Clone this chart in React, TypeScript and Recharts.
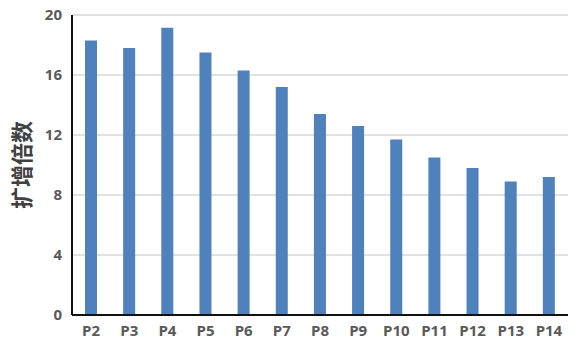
import { BarChart, Bar, XAxis, YAxis, CartesianGrid } from "recharts";

const categories = ["P2", "P3", "P4", "P5", "P6", "P7", "P8", "P9", "P10", "P11", "P12", "P13", "P14"];
const foldValues = [18.3, 17.8, 19.15, 17.5, 16.3, 15.2, 13.4, 12.6, 11.7, 10.5, 9.8, 8.9, 9.2];
const yTicks = [0, 4, 8, 12, 16, 20];

const data = categories.map((name, i) => ({ name, value: foldValues[i] }));

const tickStyle = {
  fontSize: 15,
  fontWeight: 700,
  fill: "#595959",
  fontFamily: "'Open Sans', 'Liberation Sans', sans-serif",
};

export default function App() {
  return (
    <div style={{ position: "absolute", left: 0, top: 0, width: 583, height: 352, background: "#fff" }}>
      <BarChart
        width={583}
        height={352}
        data={data}
        margin={{ top: 15, right: 15, left: 0, bottom: 7 }}
        barCategoryGap={0}
      >
        <CartesianGrid vertical={false} stroke="#d9d9d9" strokeWidth={1.5} />
        <XAxis
          dataKey="name"
          height={30}
          tickLine={false}
          axisLine={{ stroke: "#111", strokeWidth: 2 }}
          tick={{ ...tickStyle, fontSize: 15 }}
          tickMargin={4}
          interval={0}
        />
        <YAxis
          width={72}
          domain={[0, 20]}
          ticks={yTicks}
          tickLine={false}
          axisLine={{ stroke: "#111", strokeWidth: 2 }}
          tick={tickStyle}
          tickMargin={4}
          label={{
            value: "扩增倍数",
            angle: -90,
            position: "insideLeft",
            offset: 22,
            style: {
              textAnchor: "middle",
              fontSize: 22,
              fontWeight: 700,
              fill: "#404040",
              fontFamily: "'Noto Sans CJK SC', sans-serif",
            },
          }}
        />
        <Bar dataKey="value" fill="#4f81bd" barSize={12} isAnimationActive={false} />
      </BarChart>
    </div>
  );
}
